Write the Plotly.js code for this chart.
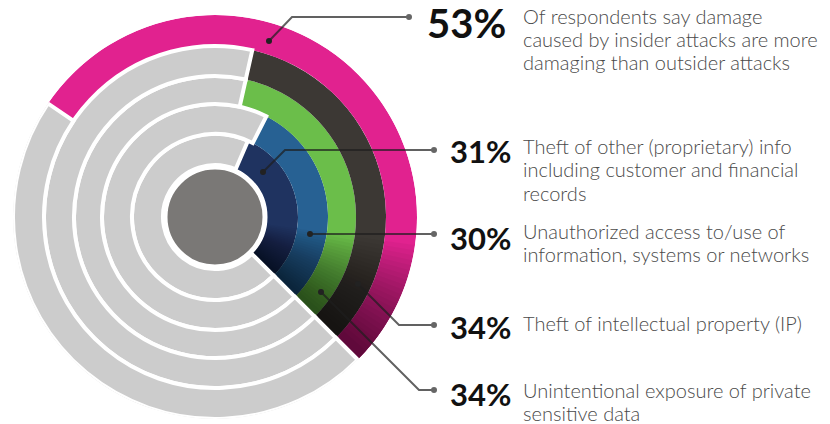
<!DOCTYPE html>
<html>
<head>
<meta charset="utf-8">
<script src="https://cdn.plot.ly/plotly-3.0.1.min.js"></script>
<style>html,body{margin:0;padding:0;background:#fff;}#chart{width:830px;height:424px;}</style>
</head>
<body>
<div id="chart"></div>
<script>
// ---- data (rings listed from inner to outer) ----
const ringNames = ['Theft of other info', 'Unauthorized access', 'Unintentional exposure', 'Theft of IP', 'Insider more damaging'];
const ringValues = [31, 30, 34, 34, 53];
const pctLabels = ['53%', '31%', '30%', '34%', '34%'];
const descLines = [
  ['Of respondents say damage', 'caused by insider attacks are more', 'damaging than outsider attacks'],
  ['Theft of other (proprietary) info', 'including customer and financial', 'records'],
  ['Unauthorized access to/use of', 'information, systems or networks'],
  ['Theft of intellectual property (IP)'],
  ['Unintentional exposure of private', 'sensitive data']
];

// ---- styling ----
const ringColors = ['#1F3360', '#276193', '#6BBE4A', '#3C3834', '#E1228F'];
const ringEdges = [52, 83, 113, 141, 171, 202];
const END = 135;
const W = 830, H = 424;
const CX = 215, CY = 217, R = 202;
const px = x => x / W, py = y => 1 - y / H;

const inner = ringEdges.slice(0, 5);
const thick = inner.map((b, i) => ringEdges[i + 1] - b);

const colored = {
  type: 'barpolar', name: 'share',
  r: thick, base: inner,
  theta: ringValues.map(v => END - v * 3.6 / 2),
  width: ringValues.map(v => v * 3.6),
  marker: {color: ringColors, line: {width: 0}},
  hoverinfo: 'skip', showlegend: false
};

// soft shadow towards the end of every coloured arc (cumulative translucent overlays)
const shade = [];
const STEPS = 24;
for (let k = 0; k < STEPS; k++) {
  const a0 = 98 + (END - 100) * k / STEPS;
  shade.push({
    type: 'barpolar', r: [ringEdges[5] - ringEdges[0]], base: [ringEdges[0]],
    theta: [(a0 + END) / 2], width: [END - a0],
    marker: {color: 'rgba(0,0,0,0.03)', line: {width: 0}},
    hoverinfo: 'skip', showlegend: false
  });
}

const grey = {
  type: 'barpolar', name: 'rest',
  r: thick, base: inner,
  theta: ringValues.map(v => END + (360 - v * 3.6) / 2),
  width: ringValues.map(v => 360 - v * 3.6),
  marker: {color: '#CCCCCC', line: {width: 4, color: '#FFFFFF'}},
  hoverinfo: 'skip', showlegend: false
};

const disk = {
  type: 'barpolar', r: [50], base: [0], theta: [0], width: [360],
  marker: {color: '#7A7876', line: {width: 5, color: '#FFFFFF'}},
  hoverinfo: 'skip', showlegend: false
};

// ---- leader lines (pixel coords) ----
const leaders = [
  [[269, 41], [292, 17], [409, 17]],
  [[263, 172], [285, 150], [434, 150]],
  [[310, 234], [434, 234]],
  [[358, 284], [399, 325], [434, 325]],
  [[321, 292], [419, 390], [434, 390]]
];
const lineColor = 'rgba(30,30,30,0.7)';
const shapes = [];
leaders.forEach(pts => {
  const path = pts.map((p, i) => (i ? 'L' : 'M') + px(p[0]) + ',' + py(p[1])).join(' ');
  shapes.push({type: 'path', xref: 'paper', yref: 'paper', path: path, line: {color: lineColor, width: 2}});
  [pts[0], pts[pts.length - 1]].forEach(p => {
    shapes.push({type: 'circle', xref: 'paper', yref: 'paper',
      x0: px(p[0] - 3), x1: px(p[0] + 3), y0: py(p[1] + 3), y1: py(p[1] - 3),
      fillcolor: p === pts[0] ? '#222' : '#666', line: {width: 0}});
  });
});

// ---- text ----
const pctPos = [[425, 23, 40], [448, 151, 31], [448, 238, 31], [448, 327, 31], [448, 394, 31]];
const descPos = [[521, 15.5], [521, 146], [521, 231], [521, 323], [521, 389.5]];
const annotations = [];
pctLabels.forEach((t, i) => {
  annotations.push({xref: 'paper', yref: 'paper', x: px(pctPos[i][0]), y: py(pctPos[i][1]),
    xanchor: 'left', yanchor: 'middle', text: t, showarrow: false,
    font: {family: 'Lato', size: pctPos[i][2], color: '#111', weight: 700}});
});
descLines.forEach((lines, i) => {
  lines.forEach((ln, j) => {
    annotations.push({xref: 'paper', yref: 'paper', x: px(descPos[i][0]), y: py(descPos[i][1] + j * 23.3),
      xanchor: 'left', yanchor: 'middle', text: ln, showarrow: false,
      font: {family: 'Lato', size: 20, color: '#4a4a4a', weight: 300}});
  });
});

const layout = {
  width: W, height: H,
  margin: {l: 0, r: 0, t: 0, b: 0},
  paper_bgcolor: '#FFFFFF',
  showlegend: false,
  polar: {
    domain: {x: [px(CX - R), px(CX + R)], y: [(H - CY - R) / H, (H - CY + R) / H]},
    bgcolor: 'rgba(0,0,0,0)',
    barmode: 'overlay', bargap: 0,
    radialaxis: {range: [0, R], visible: false},
    angularaxis: {rotation: 90, direction: 'clockwise', visible: false}
  },
  shapes: shapes,
  annotations: annotations
};

Plotly.newPlot('chart', [colored].concat(shade, [grey, disk]), layout, {displayModeBar: false, staticPlot: true});
</script>
</body>
</html>
